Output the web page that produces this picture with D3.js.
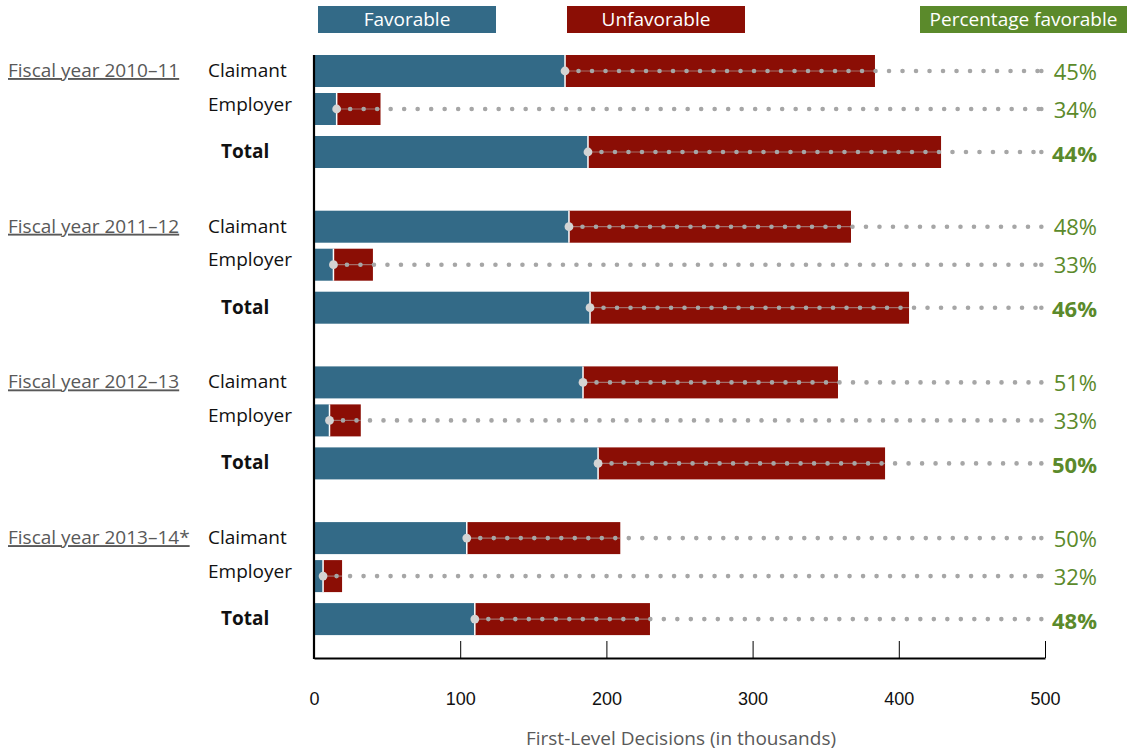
<!DOCTYPE html>
<html>
<head>
<meta charset="utf-8">
<script src="https://cdn.jsdelivr.net/npm/d3@7"></script>
<style>
  html, body { margin: 0; padding: 0; background: #fff; }
  svg { display: block; font-family: 'Open Sans', 'Noto Sans', sans-serif; }
</style>
</head>
<body>
<div id="chart"></div>
<script>
// Data (thousands of first-level decisions)
const fiscalYears = ['Fiscal year 2010–11', 'Fiscal year 2011–12', 'Fiscal year 2012–13', 'Fiscal year 2013–14*'];
const rowTypes = ['Claimant', 'Employer', 'Total'];
const favorable = [
  [171.7, 15.5, 187.4],
  [174.4, 13.3, 188.8],
  [184.0, 10.6, 194.3],
  [104.5, 6.2, 110.0]
];
const unfavorable = [
  [212.0, 30.0, 241.5],
  [192.9, 27.0, 218.2],
  [174.4, 21.4, 196.3],
  [105.0, 13.0, 119.8]
];
const pctFavorable = [
  [45, 34, 44],
  [48, 33, 46],
  [51, 33, 50],
  [50, 32, 48]
];
const xTicks = [0, 100, 200, 300, 400, 500];
const legendItems = ['Favorable', 'Unfavorable', 'Percentage favorable'];

const colors = {
  favorable: '#336a87',
  unfavorable: '#8b0e05',
  pct: '#5b8a2b',
  dot: '#a6a6a6',
  knob: '#d4d4d4'
};

const width = 1127;
const height = 750;
const barHeight = 32;
const dotsEnd = 497.5; // dotted leader stops just before 500

// flatten into one record per bar
const rows = [];
fiscalYears.forEach((year, gi) => {
  rowTypes.forEach((type, ri) => {
    rows.push({
      year: year,
      type: type,
      fav: favorable[gi][ri],
      unfav: unfavorable[gi][ri],
      pct: pctFavorable[gi][ri]
    });
  });
});

const svg = d3.select('#chart')
  .append('svg')
  .attr('width', width)
  .attr('height', height);

// Scales
const x = d3.scaleLinear().domain([0, 500]).range([314, 1045]);
const groupY = d3.scaleBand().domain(fiscalYears).range([55, 55 + 4 * 155.7]);
const rowOffset = d3.scaleOrdinal().domain(rowTypes).range([0, 38, 81]);
const labelBaseline = d3.scaleOrdinal().domain(rowTypes).range([22, 55.5, 103]);
const labelX = d3.scaleOrdinal().domain(rowTypes).range([208, 208, 221]);
const barTop = d => groupY(d.year) + rowOffset(d.type);
const barMid = d => barTop(d) + barHeight / 2;

// Legend
const legendX = [318, 567, 920];
const legendW = [178, 178, 207];
const legendFill = [colors.favorable, colors.unfavorable, colors.pct];
const legend = svg.append('g').attr('class', 'legend')
  .selectAll('g')
  .data(legendItems)
  .join('g');
legend.append('rect')
  .attr('x', (d, i) => legendX[i])
  .attr('y', 6)
  .attr('width', (d, i) => legendW[i])
  .attr('height', 27)
  .attr('fill', (d, i) => legendFill[i]);
legend.append('text')
  .attr('x', (d, i) => legendX[i] + legendW[i] / 2)
  .attr('y', 26)
  .attr('text-anchor', 'middle')
  .attr('font-size', '19px')
  .attr('fill', '#fff')
  .text(d => d);

// Bars
const bars = svg.append('g').attr('class', 'bars')
  .selectAll('g')
  .data(rows)
  .join('g');

bars.append('rect')
  .attr('x', x(0))
  .attr('y', barTop)
  .attr('width', d => x(d.fav) - x(0))
  .attr('height', barHeight)
  .attr('fill', colors.favorable);

bars.append('rect')
  .attr('x', d => x(d.fav))
  .attr('y', barTop)
  .attr('width', d => x(d.fav + d.unfav) - x(d.fav))
  .attr('height', barHeight)
  .attr('fill', colors.unfavorable);

// thin connector inside the red segment
bars.append('line')
  .attr('x1', d => x(d.fav))
  .attr('x2', d => x(d.fav + d.unfav))
  .attr('y1', barMid)
  .attr('y2', barMid)
  .attr('stroke', '#b9b9b9')
  .attr('stroke-opacity', 0.55)
  .attr('stroke-width', 1.2);

// dotted leader to the percentage
bars.append('line')
  .attr('x1', d => x(d.fav))
  .attr('x2', x(dotsEnd))
  .attr('y1', barMid)
  .attr('y2', barMid)
  .attr('stroke', colors.dot)
  .attr('stroke-width', 4.6)
  .attr('stroke-linecap', 'round')
  .attr('stroke-dasharray', '0 13.5');

bars.append('circle')
  .attr('cx', x(dotsEnd))
  .attr('cy', barMid)
  .attr('r', 2.3)
  .attr('fill', colors.dot);

// white split between favorable and unfavorable
bars.append('line')
  .attr('x1', d => x(d.fav))
  .attr('x2', d => x(d.fav))
  .attr('y1', barTop)
  .attr('y2', d => barTop(d) + barHeight)
  .attr('stroke', '#fff')
  .attr('stroke-width', 1.5);

bars.append('circle')
  .attr('cx', d => x(d.fav))
  .attr('cy', barMid)
  .attr('r', 4.4)
  .attr('fill', colors.knob);

// Percentage labels
bars.append('text')
  .attr('x', 1097)
  .attr('y', d => barTop(d) + (d.type === 'Total' ? 25.5 : 24.5))
  .attr('text-anchor', 'end')
  .attr('font-size', '22px')
  .attr('font-weight', d => d.type === 'Total' ? 700 : 400)
  .attr('fill', colors.pct)
  .text(d => d.pct + '%');

// Row labels
bars.append('text')
  .attr('x', d => labelX(d.type))
  .attr('y', d => groupY(d.year) + labelBaseline(d.type))
  .attr('font-size', '19px')
  .attr('font-weight', d => d.type === 'Total' ? 700 : 400)
  .attr('fill', '#111')
  .text(d => d.type);

// Fiscal year labels
svg.append('g').attr('class', 'years')
  .selectAll('text')
  .data(fiscalYears)
  .join('text')
  .attr('x', 8)
  .attr('y', d => groupY(d) + 22)
  .attr('font-size', '19px')
  .attr('fill', '#595959')
  .style('text-decoration', 'underline')
  .text(d => d);

// Axes
const axisY = 658;
const xAxis = svg.append('g')
  .attr('class', 'x-axis')
  .attr('transform', `translate(0, ${axisY})`)
  .call(d3.axisBottom(x)
    .tickValues(xTicks)
    .tickSizeInner(-17)
    .tickSizeOuter(0)
    .tickPadding(34)
    .tickFormat(d3.format('d')));
xAxis.select('.domain').attr('stroke', '#000').attr('stroke-width', 2.2);
xAxis.selectAll('.tick line').attr('stroke', '#000').attr('stroke-width', 1);
xAxis.selectAll('.tick text')
  .attr('font-family', 'inherit')
  .attr('font-size', '18px')
  .attr('fill', '#111');

svg.append('line')
  .attr('class', 'y-axis')
  .attr('x1', x(0))
  .attr('x2', x(0))
  .attr('y1', 55)
  .attr('y2', axisY + 1)
  .attr('stroke', '#000')
  .attr('stroke-width', 2.2);

svg.append('text')
  .attr('x', 681)
  .attr('y', 745)
  .attr('text-anchor', 'middle')
  .attr('font-size', '19px')
  .attr('fill', '#595959')
  .text('First-Level Decisions (in thousands)');
</script>
</body>
</html>
